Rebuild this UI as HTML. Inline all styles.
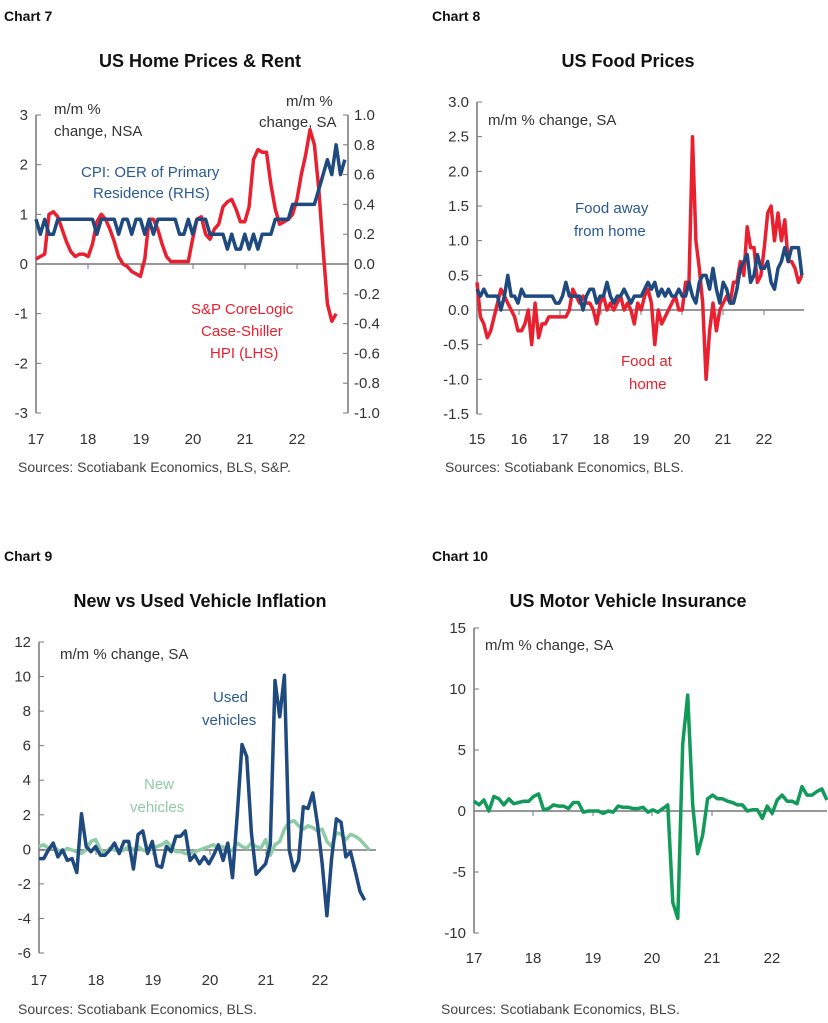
<!DOCTYPE html><html><head><meta charset="utf-8"><style>
body{margin:0;background:#fff}svg{display:block}
text{font-family:"Liberation Sans",sans-serif}
.t{font-size:15px;fill:#333}.h{font-size:18px;font-weight:bold;fill:#111}.c{font-size:14px;font-weight:bold;fill:#111}.s{font-size:14px;fill:#444}
</style></head><body>
<svg id="s" width="828" height="1023" viewBox="0 0 828 1023" xmlns="http://www.w3.org/2000/svg">
<text class="c" x="4" y="21">Chart 7</text><text class="c" x="432" y="21">Chart 8</text>
<text class="c" x="4" y="561">Chart 9</text><text class="c" x="432" y="561">Chart 10</text>
<text class="h" x="200" y="67" text-anchor="middle">US Home Prices &amp; Rent</text>
<text class="h" x="628" y="67" text-anchor="middle">US Food Prices</text>
<text class="h" x="200" y="607" text-anchor="middle">New vs Used Vehicle Inflation</text>
<text class="h" x="628" y="607" text-anchor="middle">US Motor Vehicle Insurance</text>
<text class="s" x="18" y="472">Sources: Scotiabank Economics, BLS, S&amp;P.</text>
<text class="s" x="445" y="472">Sources: Scotiabank Economics, BLS.</text>
<text class="s" x="18" y="1014">Sources: Scotiabank Economics, BLS.</text>
<text class="s" x="441" y="1014">Sources: Scotiabank Economics, BLS.</text>
<g class="t">
<text x="54" y="114">m/m %</text><text x="54" y="136">change, NSA</text>
<text x="286" y="106">m/m %</text><text x="259" y="127">change, SA</text>
<text x="81" y="177" style="fill:#2a5a92">CPI: OER of Primary</text><text x="93" y="198" style="fill:#2a5a92">Residence (RHS)</text>
<text x="191" y="314" style="fill:#e8202f">S&amp;P CoreLogic</text><text x="201" y="336" style="fill:#e8202f">Case-Shiller</text><text x="210" y="358" style="fill:#e8202f">HPI (LHS)</text>
<text x="488" y="125">m/m % change, SA</text>
<text x="575" y="213" style="fill:#2a5a92">Food away</text><text x="574" y="236" style="fill:#2a5a92">from home</text>
<text x="621" y="366" style="fill:#e8202f">Food at</text><text x="629" y="389" style="fill:#e8202f">home</text>
<text x="60" y="659">m/m % change, SA</text>
<text x="213" y="702" style="fill:#2a5a92">Used</text><text x="202" y="725" style="fill:#2a5a92">vehicles</text>
<text x="144" y="789" style="fill:#8fcca5">New</text><text x="130" y="812" style="fill:#8fcca5">vehicles</text>
<text x="485" y="650">m/m % change, SA</text>
</g>
</svg>
<script>
var S=document.getElementById('s'),NS='http://www.w3.org/2000/svg';
function el(t,a,txt){var e=document.createElementNS(NS,t);for(var k in a)e.setAttribute(k,a[k]);if(txt!=null)e.textContent=txt;S.appendChild(e);return e;}
function axis(o){
 el('line',{x1:o.x,y1:o.yt,x2:o.x,y2:o.yb,stroke:'#777','stroke-width':1.5});
 o.yl.forEach(function(v,i){var y=o.yt+(o.yb-o.yt)*i/(o.yl.length-1);el('line',{x1:o.x,y1:y,x2:o.x+5,y2:y,stroke:'#777'});el('text',{x:o.x-8,y:y+5,'text-anchor':'end','class':'t'},v);});
 if(o.r){o.rl.forEach(function(v,i){var y=o.yt+(o.yb-o.yt)*i/(o.rl.length-1);el('line',{x1:o.r-5,y1:y,x2:o.r,y2:y,stroke:'#777'});el('text',{x:o.r+6,y:y+5,'class':'t'},v);});el('line',{x1:o.r,y1:o.yt,x2:o.r,y2:o.yb,stroke:'#777','stroke-width':1.5});}
 el('line',{x1:o.x,y1:o.y0,x2:o.xe,y2:o.y0,stroke:'#777','stroke-width':1.5});
 o.xt.forEach(function(x,i){if(i>0)el('line',{x1:x,y1:o.y0,x2:x,y2:o.y0+5,stroke:'#777'});el('text',{x:x,y:o.xly,'text-anchor':'middle','class':'t'},o.xs[i]);});
}
function line(d,x0,dx,y0,sc,col,w){el('polyline',{points:d.map(function(v,i){return (x0+i*dx).toFixed(1)+','+(y0-v*sc).toFixed(1)}).join(' '),fill:'none',stroke:col,'stroke-width':w||3.5,'stroke-linejoin':'round'});}
var B='#1f4a80',R='#e8202f';
axis({x:36,yt:115,yb:413,y0:264,xe:348,yl:['3','2','1','0','-1','-2','-3'],r:348,rl:['1.0','0.8','0.6','0.4','0.2','0.0','-0.2','-0.4','-0.6','-0.8','-1.0'],xt:[36,88,141,193,245,297],xs:['17','18','19','20','21','22'],xly:444});
var hpi=[0.1,0.15,0.2,1.0,1.05,0.95,0.7,0.45,0.25,0.15,0.2,0.2,0.15,0.4,0.85,1.0,0.9,0.7,0.45,0.15,0.0,-0.05,-0.15,-0.2,-0.25,0.1,0.9,0.9,0.7,0.4,0.15,0.05,0.05,0.05,0.05,0.05,0.5,0.9,0.95,0.6,0.5,0.7,0.8,1.15,1.25,1.3,1.1,0.85,0.85,1.15,2.1,2.3,2.25,2.25,1.6,1.1,0.8,0.85,0.9,1.0,1.3,1.8,2.2,2.7,2.4,1.5,0.3,-0.8,-1.15,-1.0];
var oer=[0.3,0.2,0.3,0.2,0.2,0.3,0.3,0.3,0.3,0.3,0.3,0.3,0.3,0.3,0.2,0.3,0.3,0.3,0.3,0.2,0.3,0.3,0.2,0.3,0.3,0.2,0.3,0.2,0.3,0.3,0.3,0.3,0.3,0.2,0.2,0.3,0.2,0.3,0.3,0.3,0.2,0.2,0.2,0.2,0.1,0.2,0.1,0.1,0.2,0.1,0.2,0.1,0.2,0.2,0.2,0.3,0.3,0.3,0.3,0.4,0.4,0.4,0.4,0.4,0.4,0.5,0.6,0.7,0.6,0.8,0.6,0.7];
line(hpi,36,4.35,264,49.7,R);line(oer,36,4.35,264,149,B);
axis({x:477,yt:102,yb:414,y0:310,xe:804,yl:['3.0','2.5','2.0','1.5','1.0','0.5','0.0','-0.5','-1.0','-1.5'],xt:[477,519,560,601,641,682,723,764],xs:['15','16','17','18','19','20','21','22'],xly:444});
var fh=[0.4,-0.1,-0.2,-0.4,-0.3,-0.1,0.1,0.3,0.2,0.1,0.0,-0.1,-0.3,-0.3,-0.2,0.0,-0.5,0.1,-0.4,-0.2,-0.2,-0.1,-0.1,-0.1,-0.1,-0.1,-0.1,0.0,0.3,0.2,0.1,0.2,0.1,0.1,0.0,-0.2,0.1,0.2,0.0,0.1,0.0,0.1,0.2,0.0,0.1,0.0,-0.2,0.1,0.0,0.2,0.3,0.1,-0.5,0.0,-0.2,-0.1,0.0,0.1,0.2,0.0,0.0,0.4,0.4,2.5,1.0,0.6,0.1,-1.0,-0.3,0.1,-0.3,0.0,0.1,0.2,0.1,0.4,0.4,0.7,0.5,1.2,0.9,0.9,0.4,0.5,0.9,1.4,1.5,1.0,1.4,1.0,1.3,0.7,0.7,0.6,0.4,0.5];
var fa=[0.3,0.2,0.3,0.2,0.2,0.2,0.2,0.0,0.2,0.5,0.2,0.2,0.1,0.3,0.2,0.2,0.2,0.2,0.2,0.2,0.2,0.2,0.2,0.1,0.1,0.2,0.4,0.2,0.2,0.2,0.2,0.0,0.2,0.3,0.3,0.1,0.2,0.2,0.4,0.2,0.1,0.2,0.2,0.3,0.2,0.1,0.2,0.2,0.2,0.3,0.4,0.3,0.4,0.2,0.3,0.2,0.3,0.2,0.2,0.3,0.2,0.2,0.4,0.2,0.1,0.4,0.5,0.5,0.3,0.6,0.3,0.1,0.4,0.3,0.1,0.1,0.3,0.6,0.7,0.8,0.4,0.5,0.8,0.6,0.6,0.7,0.4,0.3,0.6,0.7,0.9,0.7,0.9,0.9,0.9,0.5];
line(fh,477,3.42,310,69.3,R);line(fa,477,3.42,310,69.3,B);
axis({x:39,yt:642,yb:953,y0:850,xe:376,yl:['12','10','8','6','4','2','0','-2','-4','-6'],xt:[39,96,153,210,266,320],xs:['17','18','19','20','21','22'],xly:985});
var nv=[0.2,0.3,0.1,0.2,0.0,-0.1,0.1,0.0,-0.1,-0.2,0.0,0.5,0.6,0.0,-0.2,0.1,0.0,-0.1,0.0,0.2,0.0,0.2,0.0,-0.1,0.1,0.2,0.3,0.5,0.2,-0.1,-0.1,-0.2,-0.2,-0.1,0.0,0.1,0.2,0.3,0.1,0.2,-0.1,0.0,0.4,0.2,0.1,0.4,0.2,0.1,0.6,-0.3,0.3,0.5,1.2,1.6,1.7,1.4,1.2,1.4,1.3,1.1,1.2,0.5,0.2,1.0,0.9,0.6,0.9,0.8,0.6,0.3,0.0];
var uv=[-0.5,-0.5,0.0,0.4,-0.4,0.0,-0.6,-0.5,-1.3,2.1,0.2,-0.1,0.2,-0.3,-0.3,0.0,0.4,-0.2,0.5,0.5,-1.1,0.9,1.1,-0.2,0.5,-0.9,-1.0,0.2,-0.1,0.8,0.8,1.1,-0.6,-0.3,-0.8,-0.4,-0.8,-0.3,0.3,-0.6,0.4,-1.6,2.0,6.1,5.4,1.0,-1.4,-1.1,-0.8,0.3,9.8,7.7,10.1,0.0,-1.2,-0.6,2.5,2.4,3.3,1.5,-0.8,-3.8,-0.5,1.8,1.6,-0.4,-0.1,-1.2,-2.4,-2.9];
line(nv,39,4.72,850,17.3,'#8fcca5');line(uv,39,4.72,850,17.3,B);
axis({x:474,yt:628,yb:933,y0:811,xe:827,yl:['15','10','5','0','-5','-10'],xt:[474,533,593,652,712,772],xs:['17','18','19','20','21','22'],xly:963});
var mi=[0.8,0.5,0.9,0.0,1.2,1.0,0.5,1.0,0.6,0.7,0.8,0.8,1.2,1.4,0.1,0.2,0.5,0.4,0.4,0.2,0.7,0.7,-0.1,0.0,0.0,0.0,-0.2,0.0,-0.1,0.4,0.3,0.3,0.2,0.2,0.3,-0.1,0.1,-0.1,0.2,0.5,-7.5,-8.8,5.5,9.5,0.5,-3.5,-2.0,1.0,1.3,1.0,1.0,0.8,0.7,0.5,0.5,0.0,0.1,0.1,-0.6,0.4,-0.2,0.9,1.3,0.8,0.8,0.6,2.0,1.3,1.3,1.6,1.8,0.9];
line(mi,474,4.97,811,12.2,'#129a5a');
</script></body></html>
